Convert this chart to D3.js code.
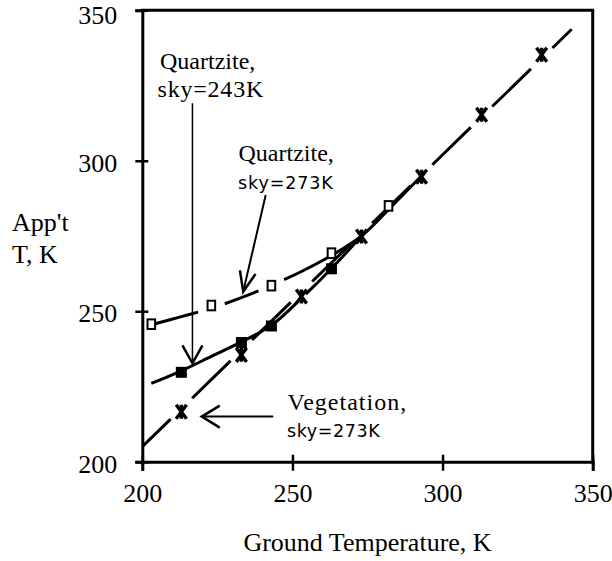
<!DOCTYPE html>
<html><head><meta charset="utf-8">
<script src="https://cdn.jsdelivr.net/npm/d3@7"></script>
<style>body{margin:0;background:#fff} svg{display:block}</style>
</head><body>
<script>
// ---- data ----
const xTicks = [200, 250, 300, 350];
const yTicks = [200, 250, 300, 350];
// Vegetation, sky=273K (asterisks) and its straight fit line
const vegX = [213, 233, 253, 273, 293, 313, 333];
const vegY = [216.6, 235.5, 254.9, 274.8, 294.7, 315.3, 335.2];
const vegFitX = [200, 343];
const vegFitY = [205, 343.7];
// Quartzite, sky=243K (filled squares) and its fitted curve
const q243X = [213, 233, 243, 263];
const q243Y = [229.7, 239.6, 245.1, 264.1];
const q243FitX = [203, 213, 223, 233, 243, 253, 263, 273];
const q243FitY = [226, 230.2, 235, 239.8, 245.3, 254.3, 264.2, 275];
// Quartzite, sky=273K (open squares) and its fitted curve
const q273X = [203, 223, 243, 263, 282];
const q273Y = [245.7, 251.9, 258.5, 269.3, 285];
const q273FitX = [203, 213, 223, 233, 243, 253, 263, 273, 283, 293];
const q273FitY = [245.5, 248.2, 251, 254.5, 258.6, 263.2, 268.5, 275, 284.8, 295];
// annotation arrows (data units): [x0, y0, x1(tip), y1(tip)]
const arrowQ243 = [216.7, 319.1, 216.7, 232.7];
const arrowQ273 = [241.1, 288.6, 233.6, 256.5];
const arrowVeg  = [243.6, 215, 219.8, 215];

// ---- layout ----
const W = 612, H = 561;
const M = {left: 142.3, right: 592.7, top: 10.3, bottom: 461.7};
const SERIF = "'Liberation Serif','Times New Roman',Times,serif";
const SANS = "'DejaVu Sans',Verdana,sans-serif";

const svg = d3.select("body").append("svg").attr("width", W).attr("height", H);
const x = d3.scaleLinear().domain([200, 350]).range([M.left, M.right]);
const y = d3.scaleLinear().domain([200, 350]).range([M.bottom, M.top]);

// ---- axes ----
const gx = svg.append("g").attr("transform", `translate(0,${M.bottom})`)
  .call(d3.axisBottom(x).tickValues(xTicks).tickSizeOuter(0).tickSize(9).tickFormat(d3.format("d")));
gx.select(".domain").attr("stroke-width", 3).attr("stroke", "#000");
gx.selectAll(".tick line").attr("y1", -7).attr("y2", 9).attr("stroke-width", 2.5);
gx.selectAll(".tick text").attr("y", 40.5).attr("dy", 0)
  .style("font-family", SERIF).style("font-size", "26px").attr("fill", "#000");

const gy = svg.append("g").attr("transform", `translate(${M.left},0)`)
  .call(d3.axisLeft(y).tickValues(yTicks).tickSizeOuter(0).tickSize(7).tickFormat(d3.format("d")));
gy.select(".domain").attr("stroke-width", 3).attr("stroke", "#000");
gy.selectAll(".tick line").attr("x1", -7).attr("x2", 6).attr("stroke-width", 2.5);
gy.selectAll(".tick text").attr("x", -25).attr("dy", "0.36em")
  .attr("y", d => d === 350 ? 4 : 1)
  .style("font-family", SERIF).style("font-size", "26px").attr("fill", "#000");

// frame (top and right)
svg.append("line").attr("x1", x(200) - 1.5).attr("x2", x(350) + 1.5).attr("y1", y(350)).attr("y2", y(350))
  .attr("stroke", "#000").attr("stroke-width", 3);
svg.append("line").attr("x1", x(350)).attr("x2", x(350)).attr("y1", y(350)).attr("y2", y(200))
  .attr("stroke", "#000").attr("stroke-width", 3);

// axis titles
svg.append("text").attr("x", 12).attr("y", 231).text("App't")
  .style("font-family", SERIF).style("font-size", "26px");
svg.append("text").attr("x", 12).attr("y", 262.5).text("T, K")
  .style("font-family", SERIF).style("font-size", "26px");
svg.append("text").attr("x", (M.left + M.right) / 2).attr("y", 550.5).attr("text-anchor", "middle")
  .text("Ground Temperature, K").style("font-family", SERIF).style("font-size", "26px");

// ---- lines ----
function gapDash(node, gapXs, half) {
  const L = node.getTotalLength();
  const samples = [];
  for (let s = 0; s <= L; s += 0.5) samples.push([s, node.getPointAtLength(s).x]);
  const ds = gapXs.map(px => {
    let best = samples[0];
    for (const s of samples) if (Math.abs(s[1] - px) < Math.abs(best[1] - px)) best = s;
    return best[0];
  }).sort((a, b) => a - b);
  const arr = [];
  let pos = 0;
  ds.forEach(d => {
    const a = Math.max(pos, d - half), b = Math.min(L, d + half);
    arr.push(a - pos, b - a);
    pos = b;
  });
  arr.push(L - pos + 10, 0);
  return arr.join(",");
}

const lineGen = d3.line().x(d => x(d[0])).y(d => y(d[1]));
const curveGen = d3.line().x(d => x(d[0])).y(d => y(d[1])).curve(d3.curveCatmullRom.alpha(0.5));

const vegLine = svg.append("path").datum(d3.zip(vegFitX, vegFitY)).attr("d", lineGen)
  .attr("fill", "none").attr("stroke", "#000").attr("stroke-width", 3);
vegLine.attr("stroke-dasharray", gapDash(vegLine.node(), vegX.map(x), 15));

const q243Line = svg.append("path").datum(d3.zip(q243FitX, q243FitY)).attr("d", curveGen)
  .attr("fill", "none").attr("stroke", "#000").attr("stroke-width", 3);
q243Line.attr("stroke-dasharray", gapDash(q243Line.node(), [x(253)], 6));

const q273Line = svg.append("path").datum(d3.zip(q273FitX, q273FitY)).attr("d", curveGen)
  .attr("fill", "none").attr("stroke", "#000").attr("stroke-width", 3);
q273Line.attr("stroke-dasharray", gapDash(q273Line.node(), [x(223), x(243)], 14));

// ---- markers ----
const asteriskType = {
  draw(ctx) {
    const h = 7, w = 5.2;
    ctx.moveTo(0, -h); ctx.lineTo(0, h);
    ctx.moveTo(-w, -h); ctx.lineTo(w, h);
    ctx.moveTo(w, -h); ctx.lineTo(-w, h);
  }
};
svg.append("g").selectAll("path").data(d3.zip(vegX, vegY)).join("path")
  .attr("transform", d => `translate(${x(d[0])},${y(d[1])})`)
  .attr("d", d3.symbol().type(asteriskType))
  .attr("fill", "none").attr("stroke", "#000").attr("stroke-width", 3.4);

svg.append("g").selectAll("rect").data(d3.zip(q243X, q243Y)).join("rect")
  .attr("x", d => x(d[0]) - 5.5).attr("y", d => y(d[1]) - 5.5)
  .attr("width", 11).attr("height", 11).attr("fill", "#000");

svg.append("g").selectAll("rect").data(d3.zip(q273X, q273Y)).join("rect")
  .attr("x", d => x(d[0]) - 3.8).attr("y", d => y(d[1]) - 4.8)
  .attr("width", 7.6).attr("height", 9.6).attr("fill", "#fff")
  .attr("stroke", "#000").attr("stroke-width", 2);

// ---- annotations ----
function arrow(a, lw, headLen, headHalf) {
  const x0 = x(a[0]), y0 = y(a[1]), x1 = x(a[2]), y1 = y(a[3]);
  const L = Math.hypot(x1 - x0, y1 - y0), ux = (x1 - x0) / L, uy = (y1 - y0) / L;
  const px = -uy, py = ux;
  const bx = x1 - ux * headLen, by = y1 - uy * headLen;
  svg.append("line").attr("x1", x0).attr("y1", y0).attr("x2", x1).attr("y2", y1)
    .attr("stroke", "#000").attr("stroke-width", lw);
  svg.append("path")
    .attr("d", `M${bx + px * headHalf},${by + py * headHalf}L${x1},${y1}L${bx - px * headHalf},${by - py * headHalf}`)
    .attr("fill", "none").attr("stroke", "#000").attr("stroke-width", 2.5).attr("stroke-linejoin", "miter");
}
arrow(arrowQ243, 1.5, 18, 10);
arrow(arrowQ273, 2, 20, 8);
arrow(arrowVeg, 2, 18, 11);

function label(t, px, py, font, size, anchor, ls) {
  svg.append("text").attr("x", px).attr("y", py).attr("text-anchor", anchor).text(t)
    .style("font-family", font).style("font-size", size + "px").style("letter-spacing", ls + "px");
}
label("Quartzite,", 160, 69, SERIF, 24, "start", 0);
label("sky=243K", 157.5, 97, SERIF, 24, "start", 0.8);
label("Quartzite,", 238.5, 161, SERIF, 24, "start", 0);
label("sky=273K", 238, 189, SANS, 17.5, "start", 0.9);
label("Vegetation,", 287.5, 409.5, SERIF, 24, "start", 1);
label("sky=273K", 287, 437, SANS, 17.5, "start", 0.6);
</script>
</body></html>
